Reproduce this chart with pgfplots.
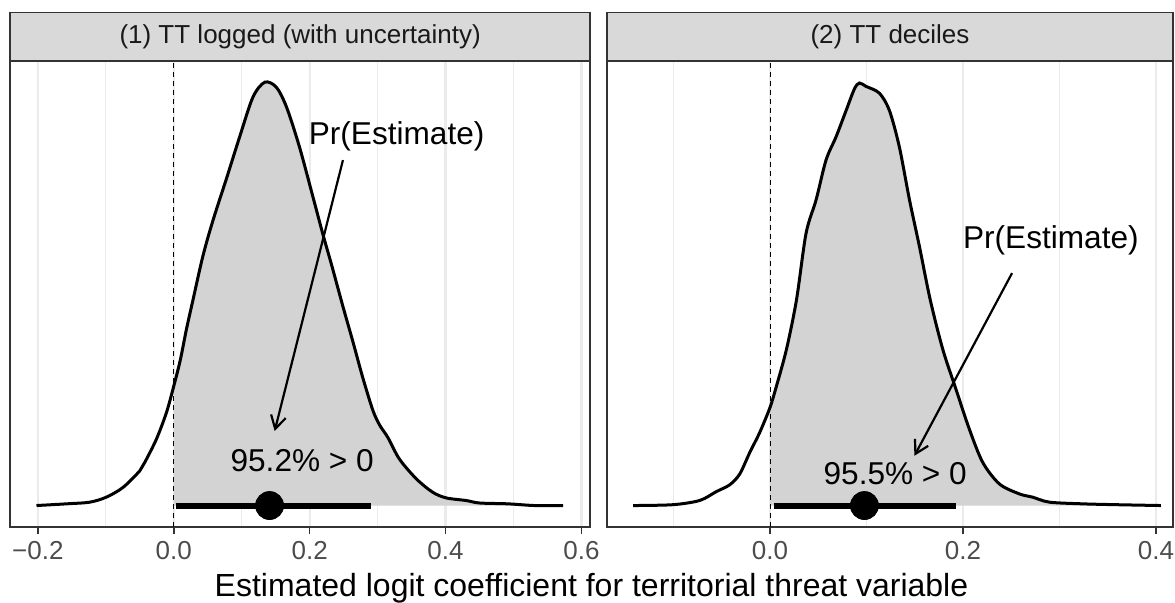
\documentclass[border=0pt]{standalone}
\usepackage{pgfplots}
\pgfplotsset{compat=1.18}
\usepackage{pgfplotstable}
\usepackage{fontspec}
\setmainfont{Liberation Sans}
\usetikzlibrary{arrows.meta}

\definecolor{grey92}{gray}{0.92}
\definecolor{grey85}{gray}{0.85}
\definecolor{grey30}{gray}{0.30}
\definecolor{grey20}{gray}{0.20}
\definecolor{grey10}{gray}{0.10}
\definecolor{dens}{HTML}{D3D3D3}

% posterior density, scaled so that the peak is 1
\pgfplotstableread{
x y
-0.202 0
-0.158 0.004
-0.1235 0.008
-0.099 0.020
-0.0745 0.043
-0.050 0.082
-0.0426 0.102
-0.0255 0.157
-0.0107 0.22
0 0.282
0.0098 0.345
0.0186 0.416
0.0275 0.48
0.043 0.59
0.058 0.675
0.0775 0.772
0.097 0.871
0.1166 0.965
0.134 1.0
0.151 0.988
0.166 0.941
0.185 0.847
0.205 0.728
0.2196 0.64
0.232 0.57
0.249 0.47
0.264 0.385
0.278 0.303
0.293 0.225
0.303 0.19
0.315 0.161
0.332 0.110
0.357 0.063
0.381 0.0315
0.401 0.018
0.4305 0.0118
0.45 0.006
0.492 0.004
0.531 0
0.573 0
}\ttlog

\pgfplotstableread{
x y
-0.142 0
-0.1005 0.002
-0.0729 0.012
-0.0556 0.033
-0.0418 0.049
-0.0314 0.0746
-0.021 0.1255
-0.0107 0.1727
0 0.232
0.0066 0.282
0.017 0.369
0.0274 0.486
0.0373 0.643
0.0477 0.722
0.058 0.816
0.0684 0.871
0.0788 0.933
0.0874 0.984
0.0926 0.998
0.0995 0.99
0.1133 0.974
0.1237 0.933
0.134 0.847
0.1445 0.722
0.1548 0.612
0.166 0.486
0.179 0.369
0.1927 0.2745
0.2066 0.180
0.2204 0.102
0.2377 0.051
0.2584 0.0275
0.2722 0.0197
0.2895 0.008
0.324 0.004
0.3586 0.002
0.405 0
}\ttdec

\pgfplotsset{
  panel/.style={
    scale only axis, height=232.85pt, clip=false,
    ymin=-0.05, ymax=1.05, ytick=\empty,
    axis line style={grey20, line width=0.8pt},
    xtick pos=bottom, tick align=outside,
    major tick length=3.8pt, minor tick length=0pt,
    tick style={grey20, line width=0.8pt},
    xticklabel style={font=\fontsize{13}{15}\selectfont, text=grey30},
    xmajorgrids, xminorgrids,
    major grid style={grey92, line width=1.1pt},
    minor grid style={grey92, line width=0.55pt},
  },
}
\tikzset{
  strip/.style={grey20, line width=0.8pt, fill=grey85},
  striptext/.style={font=\fontsize{13}{15}\selectfont, text=grey10},
  ann/.style={font=\fontsize{15.8}{18}\selectfont},
  arr/.style={line width=1.1pt, -{Straight Barb[angle=60:7.5pt]}},
}

\begin{document}
\begin{tikzpicture}
\path[use as bounding box] (-5pt,-37.65pt) rectangle (582.5pt,263.35pt);

\begin{axis}[panel, width=290.15pt,
    xmin=-0.241, xmax=0.613,
    xtick={-0.2,0,0.2,0.4,0.6},
    xticklabels={−0.2,0.0,0.2,0.4,0.6},
    minor xtick={-0.1,0.1,0.3,0.5}]
  \addplot[draw=none, fill=dens, smooth, restrict x to domain=0:1] table {\ttlog} \closedcycle;
  \addplot[black, line width=0.5pt, dash pattern=on 2.5pt off 2pt] coordinates {(0,-0.05) (0,1.05)};
  \addplot[black, line width=1.5pt, smooth] table {\ttlog};
  \addplot[black, line width=3pt] coordinates {(0.003,0) (0.291,0)};
  \addplot[only marks, mark=*, mark size=7pt, black] coordinates {(0.141,0)};
  \node[ann] at (axis cs:0.328,0.871) {Pr(Estimate)};
  \draw[arr] (axis cs:0.249,0.816) -- (axis cs:0.1485,0.176);
  \node[ann] at (axis cs:0.189,0.106) {95.2\% > 0};
  \draw[strip] (rel axis cs:0,1) rectangle ([yshift=24.35pt]rel axis cs:1,1);
  \node[striptext] at ([yshift=12.2pt]rel axis cs:0.5,1) {(1) TT logged (with uncertainty)};
\end{axis}

\begin{axis}[panel, width=283pt, at={(298.5pt,0)},
    xmin=-0.169, xmax=0.4176,
    xtick={0,0.2,0.4},
    xticklabels={0.0,0.2,0.4},
    minor xtick={-0.1,0.1,0.3}]
  \addplot[draw=none, fill=dens, smooth, restrict x to domain=0:1] table {\ttdec} \closedcycle;
  \addplot[black, line width=0.5pt, dash pattern=on 2.5pt off 2pt] coordinates {(0,-0.05) (0,1.05)};
  \addplot[black, line width=1.5pt, smooth] table {\ttdec};
  \addplot[black, line width=3pt] coordinates {(0.004,0) (0.193,0)};
  \addplot[only marks, mark=*, mark size=7pt, black] coordinates {(0.0978,0)};
  \node[ann] at (axis cs:0.291,0.6275) {Pr(Estimate)};
  \draw[arr] (axis cs:0.2508,0.549) -- (axis cs:0.1496,0.1176);
  \node[ann] at (axis cs:0.1297,0.0746) {95.5\% > 0};
  \draw[strip] (rel axis cs:0,1) rectangle ([yshift=24.35pt]rel axis cs:1,1);
  \node[striptext] at ([yshift=12.2pt]rel axis cs:0.5,1) {(2) TT deciles};
\end{axis}

\node[font=\fontsize{16}{19}\selectfont] at (290.75pt,-30.6pt) {Estimated logit coefficient for territorial threat variable};
\end{tikzpicture}
\end{document}
